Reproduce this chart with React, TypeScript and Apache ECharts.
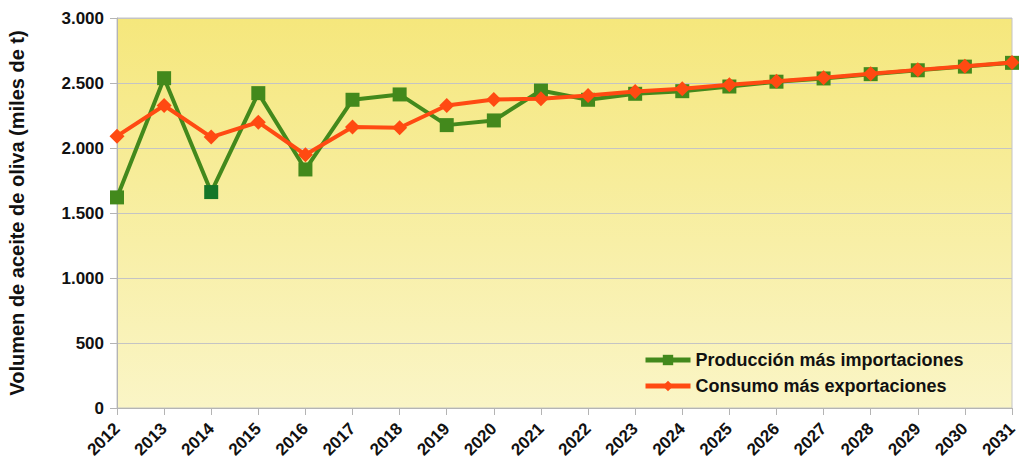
import React, { useEffect, useRef } from "react";
import * as echarts from "echarts";

const years = ["2012","2013","2014","2015","2016","2017","2018","2019","2020","2021","2022","2023","2024","2025","2026","2027","2028","2029","2030","2031"];
const produccion = [1620, 2537, 1661, 2422, 1835, 2371, 2412, 2176, 2212, 2442, 2371, 2417, 2437, 2473, 2510, 2535, 2568, 2598, 2626, 2655];
const consumo = [2091, 2327, 2084, 2199, 1948, 2161, 2156, 2327, 2373, 2379, 2404, 2435, 2455, 2486, 2514, 2540, 2571, 2601, 2629, 2657];
const darkPointIndex = 2;

const GREEN = "#43891c";
const DARK_GREEN = "#157628";
const ORANGE = "#ff4a12";
const FONT = "'Liberation Sans', Arial, sans-serif";

const fmt = (v: number) => v.toLocaleString("de-DE");

export default function App() {
  const ref = useRef<HTMLDivElement>(null);
  useEffect(() => {
    document.body.style.margin = "0";
    if (!ref.current) return;
    const chart = echarts.init(ref.current, undefined, { renderer: "svg" });
    chart.setOption({
      animation: false,
      textStyle: { fontFamily: FONT },
      grid: {
        left: 117, right: 7, top: 18, bottom: 54,
        containLabel: false,
        outerBoundsMode: "none",
        show: true,
        borderColor: "#c4c4c4",
        borderWidth: 1,
        backgroundColor: new echarts.graphic.LinearGradient(0, 0, 0, 1, [
          { offset: 0, color: "#f5e77c" },
          { offset: 1, color: "#faf5c6" },
        ]),
      },
      legend: {
        orient: "vertical",
        left: 638,
        top: 346,
        itemWidth: 45,
        itemHeight: 13,
        itemGap: 8,
        lineStyle: { width: 5 },
        textStyle: { fontFamily: FONT, fontWeight: "bold", fontSize: 18, color: "#111" },
        data: ["Producción más importaciones", "Consumo más exportaciones"],
      },
      xAxis: {
        type: "category",
        data: years,
        boundaryGap: false,
        axisLine: { lineStyle: { color: "#b4b4b4", width: 1 } },
        axisTick: { show: true, alignWithLabel: true, length: 7, lineStyle: { color: "#b4b4b4" } },
        axisLabel: { rotate: 45, fontFamily: FONT, fontWeight: "bold", fontSize: 17, color: "#111", margin: 18, interval: 0, hideOverlap: false },
        splitLine: { show: false },
      },
      yAxis: {
        type: "value",
        min: 0,
        max: 3000,
        interval: 500,
        name: "Volumen de aceite de oliva (miles de t)",
        nameLocation: "middle",
        nameGap: 90,
        nameTextStyle: { fontFamily: FONT, fontWeight: "bold", fontSize: 20, color: "#111" },
        axisLine: { show: true, lineStyle: { color: "#b4b4b4" } },
        axisTick: { show: true, length: 7, lineStyle: { color: "#b4b4b4" } },
        axisLabel: { fontFamily: FONT, fontWeight: "bold", fontSize: 17, color: "#111", margin: 13, formatter: (v: number) => fmt(v) },
        splitLine: { lineStyle: { color: "#c4c4c4", width: 1 } },
      },
      series: [
        {
          name: "Producción más importaciones",
          type: "line",
          data: produccion.map((v, i) =>
            i === darkPointIndex ? { value: v, itemStyle: { color: DARK_GREEN } } : v
          ),
          symbol: "rect",
          symbolSize: 14,
          lineStyle: { color: GREEN, width: 4 },
          itemStyle: { color: GREEN },
          z: 2,
        },
        {
          name: "Consumo más exportaciones",
          type: "line",
          data: consumo,
          symbol: "diamond",
          symbolSize: 15,
          lineStyle: { color: ORANGE, width: 4 },
          itemStyle: { color: ORANGE },
          z: 3,
        },
      ],
    });
    return () => chart.dispose();
  }, []);
  return <div ref={ref} style={{ width: 1019, height: 462 }} />;
}
